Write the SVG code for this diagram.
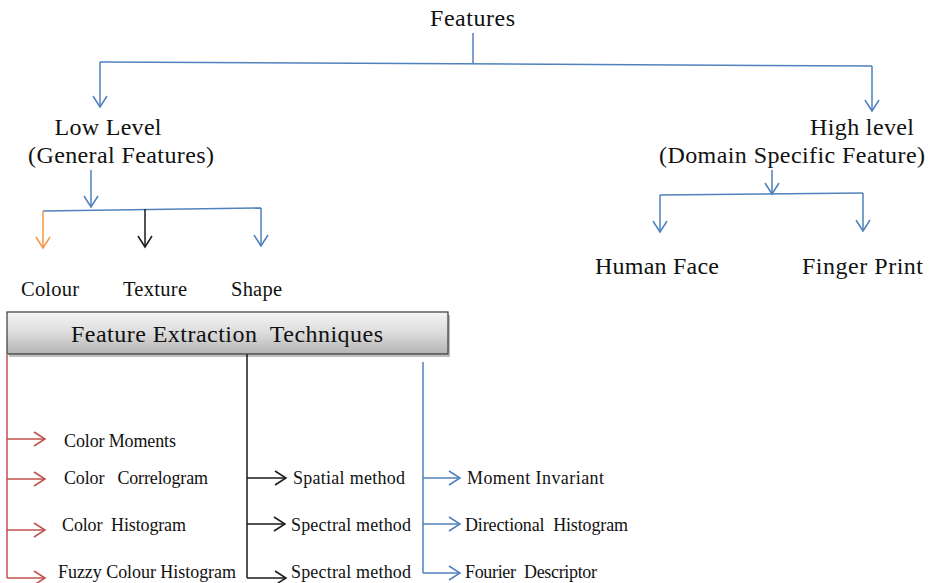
<svg xmlns="http://www.w3.org/2000/svg" width="932" height="583" viewBox="0 0 932 583">
<style>
.t{font-family:"Liberation Serif","Times New Roman",serif;fill:#111}
.big{font-size:24px}
.mid{font-size:20.5px}
.sm{font-size:18px}
.c{fill:none;stroke-width:1.5}
.b{stroke:#4f81bd}
.r{stroke:#c0504d}
.k{stroke:#1a1a1a}
.o{stroke:#f79646}
</style>
<defs>
<marker id="ab" viewBox="-1 -8 14 16" markerWidth="14" markerHeight="16" refX="11" refY="0" orient="auto" markerUnits="userSpaceOnUse"><path d="M0,-7 L11,0 L0,7" fill="none" stroke="#4f81bd" stroke-width="1.5"/></marker>
<marker id="ar" viewBox="-1 -8 14 16" markerWidth="14" markerHeight="16" refX="11" refY="0" orient="auto" markerUnits="userSpaceOnUse"><path d="M0,-7 L11,0 L0,7" fill="none" stroke="#c0504d" stroke-width="1.5"/></marker>
<marker id="ak" viewBox="-1 -8 14 16" markerWidth="14" markerHeight="16" refX="11" refY="0" orient="auto" markerUnits="userSpaceOnUse"><path d="M0,-7 L11,0 L0,7" fill="none" stroke="#1a1a1a" stroke-width="1.5"/></marker>
<marker id="ao" viewBox="-1 -8 14 16" markerWidth="14" markerHeight="16" refX="11" refY="0" orient="auto" markerUnits="userSpaceOnUse"><path d="M0,-7 L11,0 L0,7" fill="none" stroke="#f79646" stroke-width="1.5"/></marker>
<linearGradient id="g" x1="0" y1="0" x2="0" y2="1"><stop offset="0" stop-color="#f4f4f4"/><stop offset="0.5" stop-color="#dcdcdc"/><stop offset="1" stop-color="#b4b4b4"/></linearGradient>
</defs>
<rect width="932" height="583" fill="#fff"/>
<g id="connectors">
<path class="c b" d="M473,33 V63"/>
<path class="c b" d="M100,62 L872,66"/>
<path class="c b" d="M100,62 V107" marker-end="url(#ab)"/>
<path class="c b" d="M872,66 V111" marker-end="url(#ab)"/>
<path class="c b" d="M91,170 V207" marker-end="url(#ab)"/>
<path class="c b" d="M43,211 L261,208"/>
<path class="c o" d="M43,211 V248" marker-end="url(#ao)"/>
<path class="c k" d="M145,209 V247" marker-end="url(#ak)"/>
<path class="c b" d="M261,208 V246" marker-end="url(#ab)"/>
<path class="c b" d="M772,170 V194" marker-end="url(#ab)"/>
<path class="c b" d="M660,195 L863,193"/>
<path class="c b" d="M660,195 V232" marker-end="url(#ab)"/>
<path class="c b" d="M863,193 V231" marker-end="url(#ab)"/>
<path class="c r" d="M7,355 V578"/>
<path class="c r" d="M7,439 H45" marker-end="url(#ar)"/>
<path class="c r" d="M7,479 H45" marker-end="url(#ar)"/>
<path class="c r" d="M7,530 H45" marker-end="url(#ar)"/>
<path class="c r" d="M7,578 H45" marker-end="url(#ar)"/>
<path class="c k" d="M247,354 V578"/>
<path class="c k" d="M247,478 H286" marker-end="url(#ak)"/>
<path class="c k" d="M247,524 H285" marker-end="url(#ak)"/>
<path class="c k" d="M247,578 H286" marker-end="url(#ak)"/>
<path class="c b" d="M423,362 V573"/>
<path class="c b" d="M423,478 H460" marker-end="url(#ab)"/>
<path class="c b" d="M423,524 H460" marker-end="url(#ab)"/>
<path class="c b" d="M423,573 H460" marker-end="url(#ab)"/>
</g>
<g id="features"><text class="t big" x="472.5" y="26" text-anchor="middle" textLength="85">Features</text></g>
<g id="low-level">
<text class="t big" x="108" y="135" text-anchor="middle" textLength="107">Low Level</text>
<text class="t big" x="121" y="163" text-anchor="middle" textLength="186">(General Features)</text>
</g>
<g id="high-level">
<text class="t big" x="862" y="135" text-anchor="middle" textLength="104">High level</text>
<text class="t big" x="792" y="163" text-anchor="middle" textLength="266">(Domain Specific Feature)</text>
</g>
<g id="colour"><text class="t mid" x="21" y="296" textLength="58">Colour</text></g>
<g id="texture"><text class="t mid" x="123" y="296" textLength="64">Texture</text></g>
<g id="shape"><text class="t mid" x="231" y="296" textLength="51">Shape</text></g>
<g id="human-face"><text class="t big" x="595" y="274" textLength="124">Human Face</text></g>
<g id="finger-print"><text class="t big" x="802" y="274" textLength="121">Finger Print</text></g>
<g id="fet">
<rect x="9" y="315" width="441" height="42" fill="#000" opacity="0.25"/>
<rect x="7" y="312" width="441" height="42" fill="url(#g)" stroke="#3a3a3a" stroke-width="1.2"/>
<text class="t big" x="227" y="342" text-anchor="middle" textLength="312" xml:space="preserve">Feature Extraction  Techniques</text>
</g>
<g id="color-moments"><text class="t sm" x="64" y="447" textLength="112">Color Moments</text></g>
<g id="color-correlogram"><text class="t sm" x="64" y="484" textLength="144" xml:space="preserve">Color   Correlogram</text></g>
<g id="color-histogram"><text class="t sm" x="62" y="531" textLength="124" xml:space="preserve">Color  Histogram</text></g>
<g id="fuzzy-colour-histogram"><text class="t sm" x="58" y="578" textLength="178">Fuzzy Colour Histogram</text></g>
<g id="spatial-method"><text class="t sm" x="293" y="484" textLength="112">Spatial method</text></g>
<g id="spectral-method-1"><text class="t sm" x="291" y="531" textLength="120">Spectral method</text></g>
<g id="spectral-method-2"><text class="t sm" x="291" y="578" textLength="120">Spectral method</text></g>
<g id="moment-invariant"><text class="t sm" x="467" y="484" textLength="137">Moment Invariant</text></g>
<g id="directional-histogram"><text class="t sm" x="465" y="531" textLength="163" xml:space="preserve">Directional  Histogram</text></g>
<g id="fourier-descriptor"><text class="t sm" x="465" y="578" textLength="132" xml:space="preserve">Fourier  Descriptor</text></g>
</svg>
